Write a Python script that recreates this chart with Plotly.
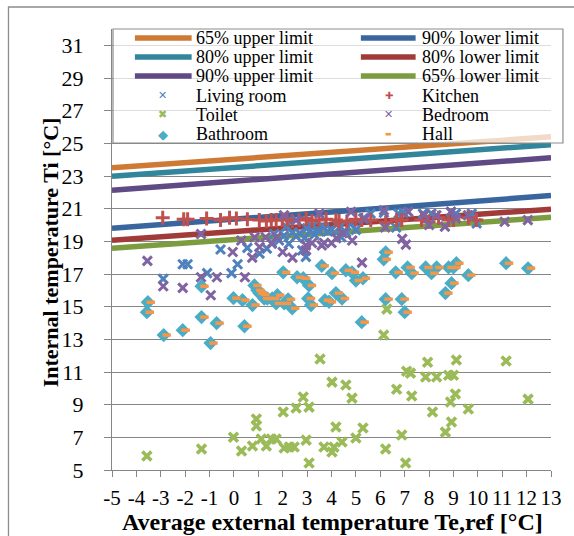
import plotly.graph_objects as go

# ---------------- data ----------------
LINE_X = [-5, 13]
UP65 = [23.5, 25.4]
UP80 = [22.98, 24.92]
UP90 = [22.13, 24.12]
LO90 = [19.8, 21.8]
LO80 = [19.07, 20.97]
LO65 = [18.58, 20.47]

LIVING_X = [-2.9, -2.1, -1.9, -1.1, -0.55, -0.1, 0.15, 0.55, 1.05, 1.35, 1.55, 1.65, 1.85, 2.05,
            2.25, 2.4, 2.55, 2.7, 2.8, 2.95, 3.0, 3.1, 3.2, 3.4, 3.5, 3.6, 3.7, 3.85, 4.0, 4.2,
            4.35, 4.4, 4.6, 4.8, 5.0, 5.3, 5.6, 6.15, 6.65, 6.75, 6.95, 7.75, 8.1, 8.9, 9.1,
            9.75, 9.95, 3.3, 2.15, 2.9]
LIVING_Y = [16.7, 17.6, 17.6, 17.05, 18.5, 17.05, 17.6, 18.6, 18.25, 18.55, 18.85, 19.45, 19.05, 19.35,
            18.85, 19.55, 19.3, 19.5, 18.45, 18.05, 19.8, 19.6, 19.9, 19.75, 19.6, 19.9, 19.85, 19.6, 19.7, 20.05,
            19.9, 19.25, 19.55, 20.1, 19.7, 20.4, 20.7, 20.75, 19.85, 20.7, 20.75, 20.7, 20.7, 20.8, 20.7,
            20.7, 20.1, 19.4, 19.9, 19.2]

KITCHEN_X = [-2.92, -2.06, -1.9, -1.12, -0.55, -0.18, 0.1, 0.55, 1.04, 1.33, 1.53, 1.73, 1.98, 2.18,
             2.39, 2.67, 2.96, 3.2, 3.49, 3.78, 4.18, 4.31, 4.63, 5.0, 5.24, 5.61, 6.22, 6.67, 6.88,
             7.69, 7.98, 8.39, 8.8, 9.0, 9.61, 9.94]
KITCHEN_Y = [20.45, 20.35, 20.35, 20.4, 20.3, 20.45, 20.4, 20.35, 20.3, 20.25, 20.3, 20.3, 20.3, 20.35,
             20.25, 20.3, 20.4, 20.25, 20.3, 20.35, 20.3, 20.25, 20.2, 20.35, 20.3, 20.3, 20.15, 20.3, 20.3,
             20.3, 20.2, 20.45, 20.3, 20.3, 20.45, 20.3]

TOILET_X = [-3.57, -1.33, -0.02, 0.31, 0.76, 0.92, 0.92, 1.12, 1.33, 1.53, 1.73, 2.02, 2.06, 2.27,
            2.47, 2.55, 2.84, 2.96, 3.08, 3.08, 3.53, 3.69, 4.02, 4.1, 4.02, 4.18, 4.43, 4.59, 4.84,
            5.0, 5.29, 6.22, 6.67, 6.88, 7.04, 7.08, 7.24, 7.29, 7.86, 7.94, 8.14, 8.31, 8.67, 8.8,
            8.88, 8.92, 9.0, 9.08, 9.12, 9.61, 11.16, 12.06, 6.27, 6.14]
TOILET_Y = [5.86, 6.28, 7.0, 6.16, 6.47, 8.12, 7.7, 6.9, 6.47, 6.9, 6.9, 8.55, 6.35, 6.41,
            6.41, 8.8, 9.47, 6.83, 8.85, 5.43, 11.79, 6.41, 6.1, 6.4, 10.38, 7.63, 6.71, 10.2, 9.4,
            6.96, 7.57, 6.28, 9.95, 7.14, 5.43, 11.05, 10.93, 9.53, 10.69, 11.6, 8.55, 10.69, 7.32, 10.8,
            9.16, 7.94, 10.8, 9.65, 11.73, 8.73, 11.67, 9.34, 14.85, 13.26]

BEDROOM_X = [-3.55, -2.9, -2.1, -1.35, -1.35, -0.95, -0.7, -0.05, 0.3, 0.45, 0.75, 0.85, 1.05, 1.3,
             1.55, 1.75, 2.0, 2.05, 2.4, 2.55, 2.95, 2.95, 3.2, 3.5, 3.6, 3.7, 4.0, 4.2, 4.45, 4.8,
             4.85, 5.25, 5.35, 6.15, 6.2, 6.9, 7.05, 7.15, 7.8, 8.0, 8.3, 8.65, 8.9, 9.1, 9.6,
             11.1, 12.05]
BEDROOM_Y = [17.8, 16.25, 16.15, 19.45, 16.8, 15.7, 16.8, 18.35, 19.05, 16.8, 18.0, 19.25, 18.65, 19.25,
             18.9, 19.25, 18.35, 20.6, 18.0, 20.3, 18.45, 18.75, 18.9, 20.7, 18.75, 18.9, 18.9, 19.2, 19.5, 20.8,
             19.05, 17.7, 20.4, 20.9, 19.85, 19.15, 18.8, 20.8, 20.6, 20.0, 20.6, 19.9, 20.8, 20.4, 20.6,
             20.2, 20.3]

BATH_X = [-3.53, -3.57, -2.88, -2.1, -1.33, -1.33, -0.96, -0.71, -0.02, 0.35, 0.43, 0.76, 0.84, 0.96,
          1.04, 1.16, 1.24, 1.37, 1.57, 1.78, 1.73, 2.02, 2.06, 2.22, 2.39, 2.59, 2.84, 3.08, 3.04,
          3.16, 3.6, 3.73, 4.02, 4.59, 4.84, 5.0, 5.29, 3.9, 4.18, 4.43, 5.24, 6.22, 6.14, 6.22,
          6.63, 6.88, 7.0, 7.12, 7.29, 7.86, 8.1, 8.31, 8.67, 8.92, 8.8, 9.0, 9.12, 9.61, 11.16, 12.06]
BATH_Y = [15.27, 14.66, 13.26, 13.56, 14.36, 16.25, 12.77, 13.99, 15.52, 15.4, 13.8, 15.1, 16.3, 16.0,
          15.83, 15.75, 15.5, 15.5, 15.5, 15.7, 15.2, 17.1, 15.2, 15.45, 14.9, 16.8, 16.74, 16.3, 15.5,
          15.1, 17.5, 15.4, 17.05, 17.23, 17.1, 16.6, 16.74, 15.3, 15.83, 15.5, 14.05, 18.33, 17.9, 15.46,
          17.1, 15.46, 14.66, 17.4, 17.05, 17.4, 17.05, 17.4, 15.83, 16.44, 17.4, 17.4, 17.66, 16.93, 17.66, 17.35]

HALL_X = [-3.41, -3.45, -2.76, -1.98, -1.21, -1.21, -0.84, -0.59, 0.1, 0.47, 0.55, 0.88, 0.96, 1.08,
          1.16, 1.28, 1.36, 1.49, 1.69, 1.9, 1.85, 2.14, 2.18, 2.34, 2.51, 2.71, 2.96, 3.2, 3.16,
          3.28, 3.72, 3.85, 4.14, 4.71, 4.96, 5.12, 5.41, 4.02, 4.3, 4.55, 5.36, 6.34, 6.26, 6.34,
          6.75, 7.0, 7.12, 7.24, 7.41, 7.98, 8.22, 8.43, 8.79, 9.04, 8.92, 9.12, 9.24, 9.73, 11.28, 12.18]
HALL_Y = [15.27, 14.66, 13.26, 13.56, 14.36, 16.25, 12.77, 13.99, 15.52, 15.4, 13.8, 15.1, 16.3, 16.0,
          15.83, 15.75, 15.5, 15.5, 15.5, 15.7, 15.2, 17.1, 15.2, 15.45, 14.9, 16.8, 16.74, 16.3, 15.5,
          15.1, 17.5, 15.4, 17.05, 17.23, 17.1, 16.6, 16.74, 15.3, 15.83, 15.5, 14.05, 18.33, 17.9, 15.46,
          17.1, 15.46, 14.66, 17.4, 17.05, 17.4, 17.05, 17.4, 15.83, 16.44, 17.4, 17.4, 17.66, 16.93, 17.66, 17.35]

Y_TICKS = [5, 7, 9, 11, 13, 15, 17, 19, 21, 23, 25, 27, 29, 31]
X_TICKS = list(range(-5, 14))

LINE_NAMES = ["65% upper limit", "90% lower limit", "80% upper limit",
              "80% lower limit", "90% upper limit", "65% lower limit"]
ROOM_NAMES = ["Living room", "Kitchen", "Toilet", "Bedroom", "Bathroom", "Hall"]

# ---------------- styles ----------------
C_UP65, C_UP80, C_UP90 = "#CE7A35", "#31869B", "#5F4A85"
C_LO90, C_LO80, C_LO65 = "#3A669F", "#A03B39", "#7B9C3F"
C_LIV, C_KIT, C_TOI = "#4F81BD", "#C0504D", "#9BBB59"
C_BED, C_BATH, C_HALL = "#8064A2", "#4BACC6", "#F79646"
GRID = "#868686"
SERIF = "Liberation Serif"

W, H = 574, 536
ML, MR, MT, MB = 112, 21, 29, 66
PW, PH = W - ML - MR, H - MT - MB


def px(xp):
    return (xp - ML) / PW


def py(yp):
    return (H - MB - yp) / PH


fig = go.Figure()

line_series = [(LINE_NAMES[0], UP65, C_UP65), (LINE_NAMES[1], LO90, C_LO90),
               (LINE_NAMES[2], UP80, C_UP80), (LINE_NAMES[3], LO80, C_LO80),
               (LINE_NAMES[4], UP90, C_UP90), (LINE_NAMES[5], LO65, C_LO65)]
for name, ys, col in line_series:
    fig.add_trace(go.Scatter(x=LINE_X, y=ys, mode="lines", name=name,
                             line=dict(color=col, width=5.5), cliponaxis=False))

fig.add_trace(go.Scatter(x=LIVING_X, y=LIVING_Y, mode="markers", name=ROOM_NAMES[0],
                         marker=dict(symbol="x-thin", size=9, line=dict(color=C_LIV, width=3))))
fig.add_trace(go.Scatter(x=KITCHEN_X, y=KITCHEN_Y, mode="markers", name=ROOM_NAMES[1],
                         marker=dict(symbol="cross-thin", size=10, line=dict(color=C_KIT, width=3))))
fig.add_trace(go.Scatter(x=TOILET_X, y=TOILET_Y, mode="markers", name=ROOM_NAMES[2],
                         marker=dict(symbol="x-thin", size=9, line=dict(color=C_TOI, width=3.6))))
fig.add_trace(go.Scatter(x=BEDROOM_X, y=BEDROOM_Y, mode="markers", name=ROOM_NAMES[3],
                         marker=dict(symbol="x-thin", size=9, line=dict(color=C_BED, width=3))))
fig.add_trace(go.Scatter(x=BATH_X, y=BATH_Y, mode="markers", name=ROOM_NAMES[4],
                         marker=dict(symbol="diamond", size=11, color=C_BATH, line=dict(width=0))))
fig.add_trace(go.Scatter(x=HALL_X, y=HALL_Y, mode="markers", name=ROOM_NAMES[5],
                         marker=dict(symbol="line-ew", size=6, line=dict(color=C_HALL, width=3.5))))

shapes = []
annotations = []

# outer chart border
shapes.append(dict(type="rect", xref="paper", yref="paper",
                   x0=px(8), x1=px(W + 5), y0=py(H + 5), y1=py(7),
                   line=dict(color="#8C8C8C", width=1.3), fillcolor="rgba(0,0,0,0)", layer="below"))

# manual legend box
shapes.append(dict(type="rect", xref="paper", yref="paper",
                   x0=px(113), x1=px(565), y0=py(143), y1=py(29),
                   line=dict(color="#8C8C8C", width=1.2), fillcolor="rgba(255,255,255,0.72)",
                   layer="above"))

row_y = [38, 57, 76, 96, 115, 134]
col_line = [(135, 192, 194), (362, 417, 421)]
col_marker = [163, 390]
left_lines = [(LINE_NAMES[0], C_UP65), (LINE_NAMES[2], C_UP80), (LINE_NAMES[4], C_UP90)]
right_lines = [(LINE_NAMES[1], C_LO90), (LINE_NAMES[3], C_LO80), (LINE_NAMES[5], C_LO65)]
for ci, items in enumerate([left_lines, right_lines]):
    x0, x1, xt = col_line[ci]
    for ri, (name, col) in enumerate(items):
        shapes.append(dict(type="line", xref="paper", yref="paper",
                           x0=px(x0), x1=px(x1), y0=py(row_y[ri]), y1=py(row_y[ri]),
                           line=dict(color=col, width=5.5), layer="above"))
        annotations.append(dict(x=px(xt), y=py(row_y[ri]), xref="paper", yref="paper",
                                text=name, showarrow=False, xanchor="left", yanchor="middle",
                                font=dict(family=SERIF, size=18, color="black")))

left_rooms = [(ROOM_NAMES[0], C_LIV, "✕", 11), (ROOM_NAMES[2], C_TOI, "✖", 11),
              (ROOM_NAMES[4], C_BATH, "◆", 13)]
right_rooms = [(ROOM_NAMES[1], C_KIT, "✚", 10), (ROOM_NAMES[3], C_BED, "✕", 11),
               (ROOM_NAMES[5], C_HALL, "▬", 7)]
for ci, items in enumerate([left_rooms, right_rooms]):
    xm = col_marker[ci]
    xt = col_line[ci][2]
    for ri, (name, col, glyph, gs) in enumerate(items):
        r = ri + 3
        annotations.append(dict(x=px(xm), y=py(row_y[r]), xref="paper", yref="paper",
                                text=glyph, showarrow=False, xanchor="center", yanchor="middle",
                                font=dict(family="DejaVu Sans", size=gs, color=col)))
        annotations.append(dict(x=px(xt), y=py(row_y[r]), xref="paper", yref="paper",
                                text=name, showarrow=False, xanchor="left", yanchor="middle",
                                font=dict(family=SERIF, size=18, color="black")))

# axis titles
annotations.append(dict(x=px(334), y=py(522), xref="paper", yref="paper",
                        text="<b>Average external temperature Te,ref [°C]</b>", showarrow=False,
                        xanchor="center", yanchor="middle",
                        font=dict(family=SERIF, size=24, color="black")))
annotations.append(dict(x=px(50), y=py(252), xref="paper", yref="paper",
                        text="<b>Internal temperature Ti [°C]</b>", showarrow=False, textangle=-90,
                        xanchor="center", yanchor="middle",
                        font=dict(family=SERIF, size=22, color="black")))

fig.update_layout(
    width=W, height=H,
    margin=dict(l=ML, r=MR, t=MT, b=MB, pad=0),
    paper_bgcolor="white", plot_bgcolor="white",
    showlegend=False,
    shapes=shapes, annotations=annotations,
    xaxis=dict(range=[-5, 13], tickvals=X_TICKS, ticktext=[str(v) for v in X_TICKS],
               showgrid=False, zeroline=False, showline=True, linecolor=GRID, linewidth=1.4,
               ticks="outside", ticklen=6, tickcolor=GRID, tickwidth=1.4,
               ticklabelstandoff=3,
               tickfont=dict(family=SERIF, size=21, color="black")),
    yaxis=dict(range=[5, 32], tickvals=Y_TICKS, ticktext=[str(v) for v in Y_TICKS],
               showgrid=True, gridcolor=GRID, gridwidth=1.4, zeroline=False,
               showline=True, linecolor=GRID, linewidth=1.4,
               ticks="outside", ticklen=7, tickcolor=GRID, tickwidth=1.4,
               ticklabelstandoff=16,
               tickfont=dict(family=SERIF, size=22, color="black")),
)

fig.write_html("out.html")
